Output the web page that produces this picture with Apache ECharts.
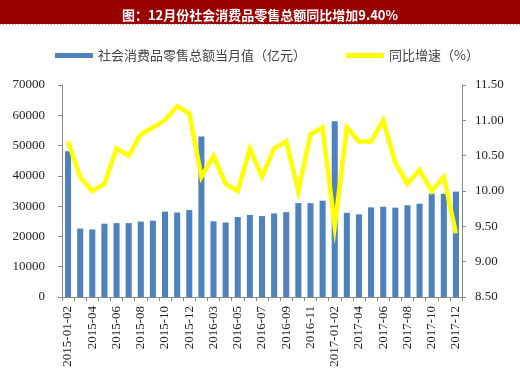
<!DOCTYPE html>
<html><head><meta charset="utf-8">
<script src="https://cdn.jsdelivr.net/npm/echarts@6/dist/echarts.min.js"></script>
<style>html,body{margin:0;padding:0;background:#fff}#c{width:520px;height:372px}</style>
</head><body><div id="c"></div>
<script>
const categories = ['2015-01-02','2015-03','2015-04','2015-05','2015-06','2015-07','2015-08','2015-09','2015-10','2015-11','2015-12',
'2016-01-02','2016-03','2016-04','2016-05','2016-06','2016-07','2016-08','2016-09','2016-10','2016-11','2016-12',
'2017-01-02','2017-03','2017-04','2017-05','2017-06','2017-07','2017-08','2017-09','2017-10','2017-11','2017-12'];
const retailSales = [48100,22600,22300,24200,24400,24400,24900,25200,28200,27900,28700,
53000,25000,24600,26400,27100,26700,27600,28000,31000,31000,31800,
58000,27800,27300,29600,29800,29500,30300,30800,34100,34100,34800];
const growthRate = [10.7,10.2,10.0,10.1,10.6,10.5,10.8,10.9,11.0,11.2,11.1,
10.2,10.5,10.1,10.0,10.6,10.2,10.6,10.7,10.0,10.8,10.9,
9.5,10.9,10.7,10.7,11.0,10.4,10.1,10.3,10.0,10.2,9.4];
const titleText = '图：12月份社会消费品零售总额同比增加9.40%';
const seriesNames = ['社会消费品零售总额当月值（亿元）','同比增速（%）'];

const chart = echarts.init(document.getElementById('c'));
const serif = '"Liberation Serif","DejaVu Serif",serif';
chart.setOption({
  animation:false,
  backgroundColor:'#fff',
  graphic:[
    {type:'rect',left:0,top:0,shape:{width:520,height:24},style:{fill:'#9a0000'}},
    {type:'line',shape:{x1:0,y1:24.5,x2:520,y2:24.5},style:{stroke:'#d9a0a0',lineWidth:1,lineDash:[1,2]}}
  ],
  title:{text:titleText,left:'center',top:4,textStyle:{color:'#fff',fontSize:13,fontWeight:'bold',fontFamily:'"Noto Sans CJK SC",sans-serif'}},
  legend:{left:50,top:44,itemWidth:38,itemHeight:5,itemGap:40,icon:'rect',
    textStyle:{fontSize:13,color:'#444',fontFamily:'"Noto Sans CJK SC",sans-serif'},
    data:seriesNames},
  grid:{left:62,right:58,top:85,bottom:75},
  xAxis:{type:'category',data:categories,boundaryGap:true,
    axisLine:{lineStyle:{color:'#888'}},
    axisTick:{show:true,length:4,alignWithLabel:false,interval:0,lineStyle:{color:'#888'}},
    axisLabel:{rotate:90,interval:1,fontSize:13,color:'#222',fontFamily:serif,margin:9}},
  yAxis:[
    {type:'value',min:0,max:70000,interval:10000,splitLine:{show:false},
     axisLine:{show:true,lineStyle:{color:'#888'}},axisTick:{show:true,length:4,lineStyle:{color:'#888'}},
     axisLabel:{fontSize:13,color:'#222',fontFamily:serif,margin:17,formatter:v=>String(v)}},
    {type:'value',min:8.5,max:11.5,interval:0.5,splitLine:{show:false},
     axisLine:{show:true,lineStyle:{color:'#888'}},axisTick:{show:true,length:4,lineStyle:{color:'#888'}},
     axisLabel:{fontSize:13,color:'#222',fontFamily:serif,margin:13,formatter:v=>v.toFixed(2)}}
  ],
  series:[
    {name:seriesNames[0],type:'bar',data:retailSales,barWidth:'50%',itemStyle:{color:'#4f81bd'}},
    {name:seriesNames[1],type:'line',yAxisIndex:1,data:growthRate,symbol:'none',
     lineStyle:{color:'#ffff00',width:4.5,join:'miter'},itemStyle:{color:'#ffff00'}}
  ]
});
</script></body></html>
